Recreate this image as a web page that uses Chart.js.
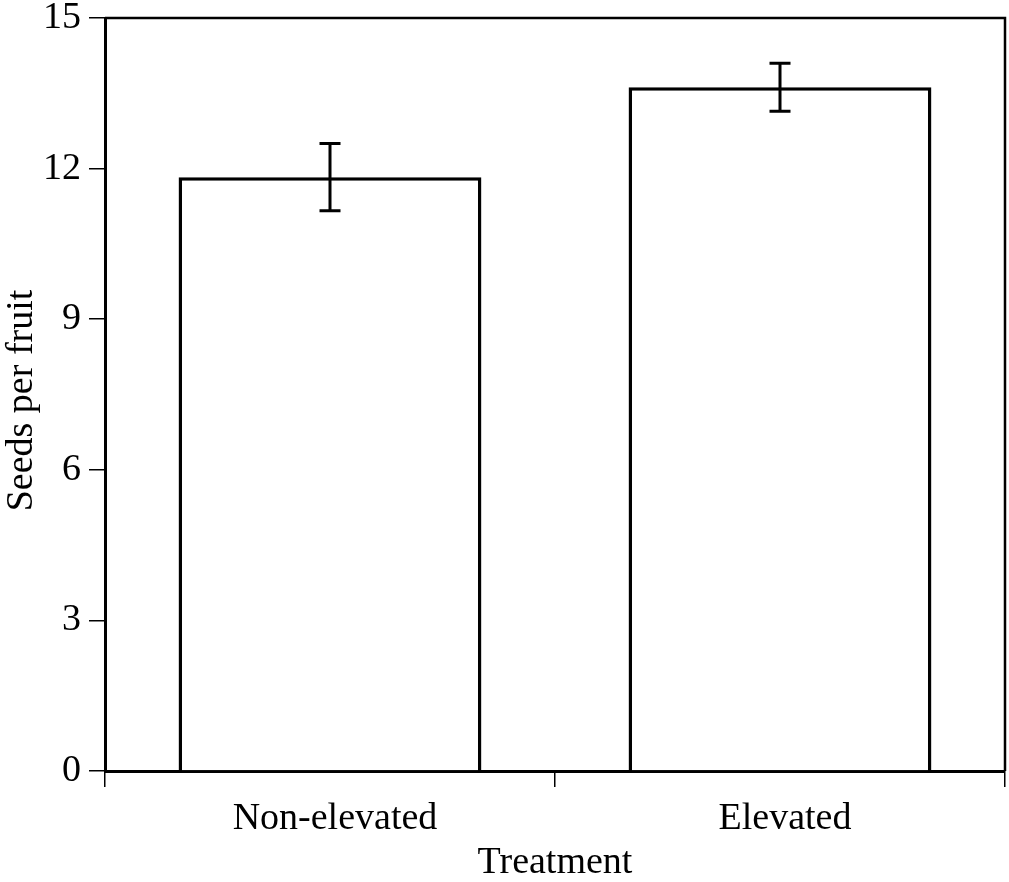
<!DOCTYPE html>
<html>
<head>
<meta charset="utf-8">
<script src="https://cdn.jsdelivr.net/npm/chart.js@4"></script>
<style>
  html, body { margin: 0; padding: 0; background: #fff; }
  #wrap { width: 1009px; height: 882px; }
</style>
</head>
<body>
<div id="wrap"><canvas id="c" width="1009" height="882"></canvas></div>
<script>
// Mean seeds per fruit by treatment, with standard error
const categories = ['Non-elevated', 'Elevated'];
const seedMeans = [11.83, 13.62];
const seedErrors = [0.67, 0.48];
const yTicks = [0, 3, 6, 9, 12, 15];
const xTitle = 'Treatment';
const yTitle = 'Seeds per fruit';

const FONT = 'Liberation Serif, Times New Roman, serif';
const SIZE = 38;

// Box around the plot area (top and right edges)
const frame = {
  id: 'frame',
  afterDatasetsDraw(chart) {
    const { ctx, chartArea: a } = chart;
    ctx.save();
    ctx.strokeStyle = '#000';
    ctx.lineWidth = 2.5;
    ctx.beginPath();
    ctx.moveTo(a.left, a.top);
    ctx.lineTo(a.right, a.top);
    ctx.lineTo(a.right, a.bottom);
    ctx.stroke();
    ctx.restore();
  }
};

// Rotated y-axis title, set a little below the plot's middle
const yAxisTitle = {
  id: 'yAxisTitle',
  afterDraw(chart) {
    const { ctx, chartArea: a } = chart;
    ctx.save();
    ctx.translate(22, (a.top + a.bottom) / 2 + 6);
    ctx.rotate(-Math.PI / 2);
    ctx.font = SIZE + 'px ' + FONT;
    ctx.fillStyle = '#000';
    ctx.textAlign = 'center';
    ctx.textBaseline = 'middle';
    ctx.fillText(yTitle, 0, 0);
    ctx.restore();
  }
};

// Error bars with caps, placed through the chart's scales
const errorBars = {
  id: 'errorBars',
  afterDatasetsDraw(chart) {
    const { ctx } = chart;
    const y = chart.scales.y;
    const meta = chart.getDatasetMeta(0);
    ctx.save();
    ctx.strokeStyle = '#000';
    ctx.lineWidth = 3;
    meta.data.forEach((bar, i) => {
      const x = bar.x;
      const hi = y.getPixelForValue(seedMeans[i] + seedErrors[i]);
      const lo = y.getPixelForValue(seedMeans[i] - seedErrors[i]);
      const cap = 10.5;
      ctx.beginPath();
      ctx.moveTo(x, hi); ctx.lineTo(x, lo);
      ctx.moveTo(x - cap, hi); ctx.lineTo(x + cap, hi);
      ctx.moveTo(x - cap, lo); ctx.lineTo(x + cap, lo);
      ctx.stroke();
    });
    ctx.restore();
  }
};

new Chart(document.getElementById('c'), {
  type: 'bar',
  data: {
    labels: categories,
    datasets: [{
      data: seedMeans,
      backgroundColor: '#fff',
      borderColor: '#000',
      borderWidth: 3.5,
      borderSkipped: 'bottom',
      categoryPercentage: 1,
      barPercentage: 0.673
    }]
  },
  options: {
    responsive: false,
    animation: false,
    devicePixelRatio: 1,
    layout: { padding: { top: 18, right: 4, left: 0, bottom: 0 } },
    plugins: { legend: { display: false }, tooltip: { enabled: false } },
    scales: {
      x: {
        afterFit(s) { s.height = 111; s.paddingLeft = 0; s.paddingRight = 0; },
        grid: { drawOnChartArea: false, drawTicks: true, tickLength: 16, color: '#000', lineWidth: 1.5, offset: true },
        border: { display: true, color: '#000', width: 3 },
        ticks: { color: '#000', font: { family: FONT, size: SIZE }, padding: 9, maxRotation: 0, labelOffset: 5 },
        title: { display: true, text: xTitle, color: '#000', font: { family: FONT, size: SIZE, lineHeight: 1 }, padding: { top: 0, bottom: 0 } }
      },
      y: {
        min: 0,
        max: 15,
        afterFit(s) { s.width = 105; s.paddingTop = 0; s.paddingBottom = 0; },
        afterBuildTicks(s) { s.ticks = yTicks.map(v => ({ value: v })); },
        grid: { drawOnChartArea: false, drawTicks: true, tickLength: 16, color: '#000', lineWidth: 1.5 },
        border: { display: true, color: '#000', width: 3 },
        ticks: { color: '#000', font: { family: FONT, size: SIZE }, padding: 8 },
        title: { display: false }
      }
    }
  },
  plugins: [frame, errorBars, yAxisTitle]
});
</script>
</body>
</html>
